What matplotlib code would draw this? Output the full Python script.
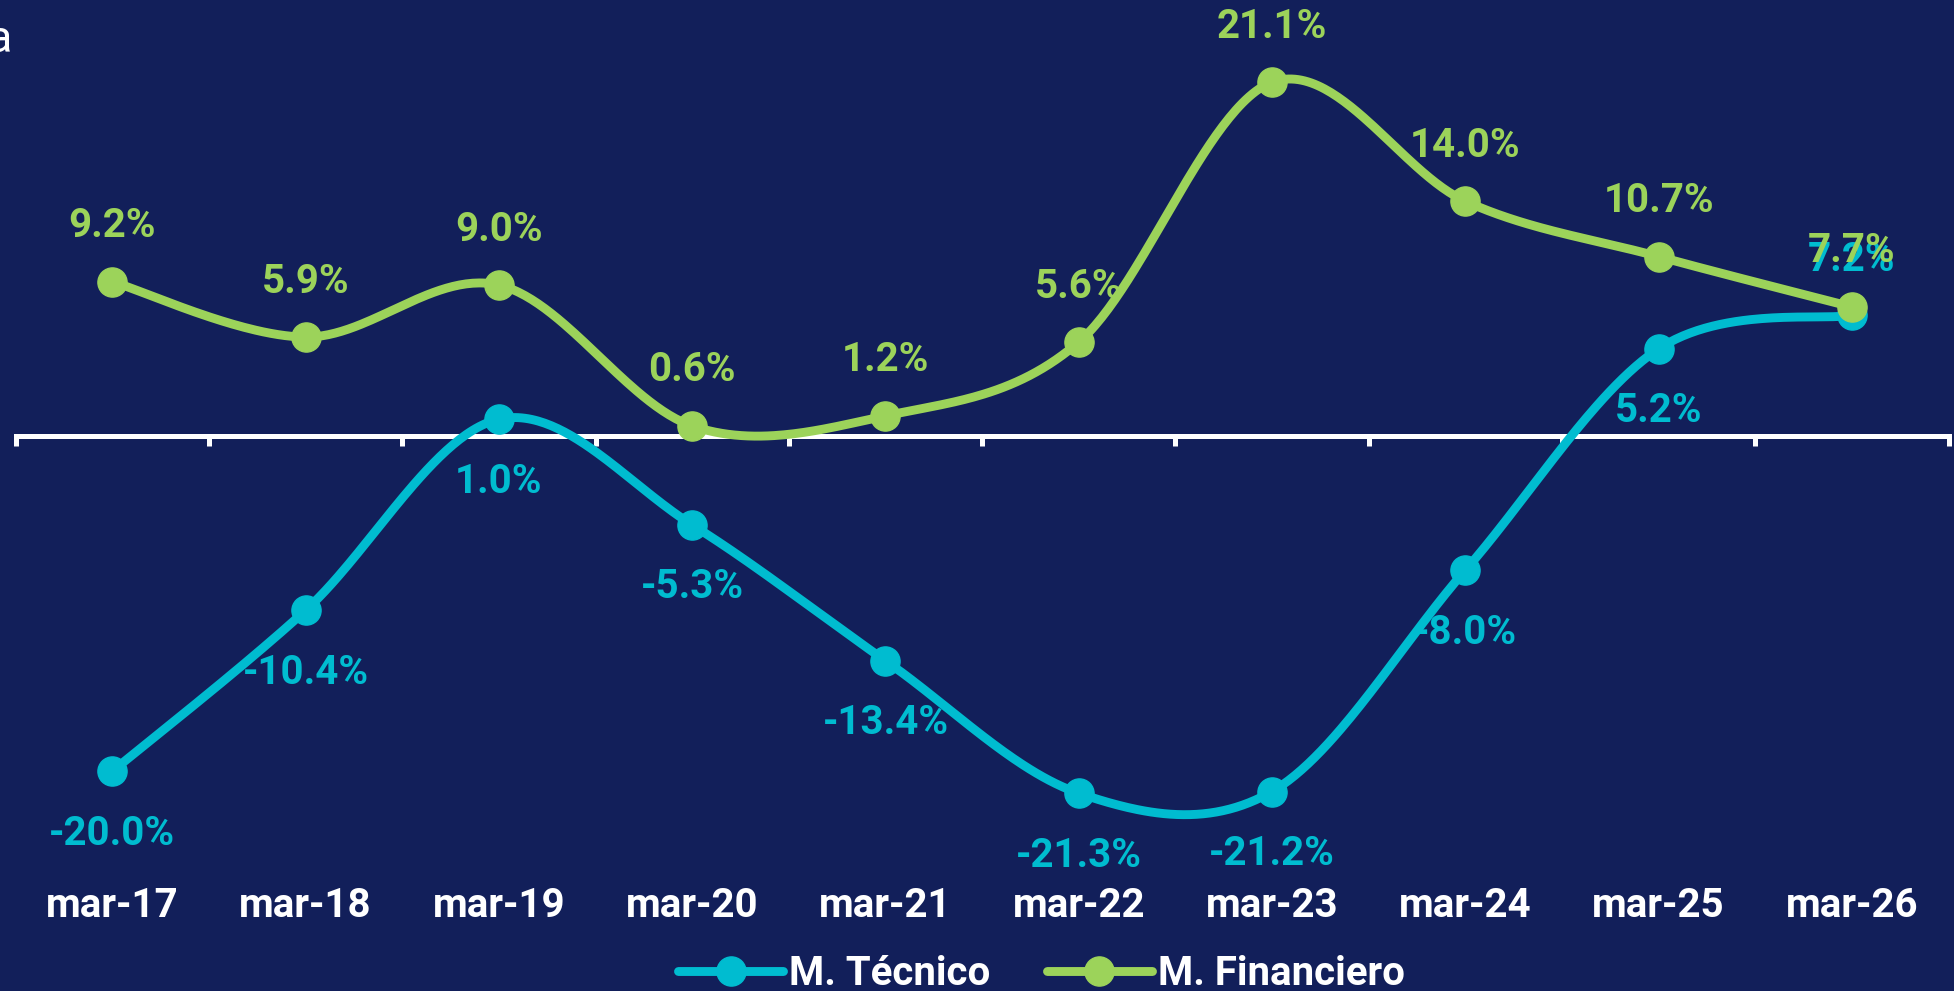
import numpy as np
import matplotlib
matplotlib.use("Agg")
import matplotlib.pyplot as plt
from matplotlib.lines import Line2D
import matplotlib.transforms as mtransforms

# ---- data ----
categories = ["mar-17", "mar-18", "mar-19", "mar-20", "mar-21",
              "mar-22", "mar-23", "mar-24", "mar-25", "mar-26"]
tecnico = [-20.0, -10.4, 1.0, -5.3, -13.4, -21.3, -21.2, -8.0, 5.2, 7.2]
financiero = [9.2, 5.9, 9.0, 0.6, 1.2, 5.6, 21.1, 14.0, 10.7, 7.7]
series_names = ["M. Técnico", "M. Financiero"]

# ---- style ----
BG = "#121F5A"
CYAN = "#00BCD0"
GREEN = "#9CD35A"
plt.rcParams['font.family'] = ['Roboto', 'DejaVu Sans']


def smooth(xs, ys, n=60):
    """Cardinal (Catmull-Rom) Bezier smoothing, like spreadsheet smoothed lines."""
    P = np.column_stack([xs, ys]).astype(float)
    Pext = np.vstack([P[0], P, P[-1]])
    out = []
    for i in range(len(P) - 1):
        p0, p1, p2, p3 = Pext[i], Pext[i + 1], Pext[i + 2], Pext[i + 3]
        c1 = p1 + (p2 - p0) / 6.0
        c2 = p2 - (p3 - p1) / 6.0
        t = np.linspace(0, 1, n)[:, None]
        seg = ((1 - t) ** 3) * p1 + 3 * ((1 - t) ** 2) * t * c1 + 3 * (1 - t) * t ** 2 * c2 + t ** 3 * p2
        out.append(seg if i == 0 else seg[1:])
    out = np.vstack(out)
    return out[:, 0], out[:, 1]


W, H = 1954, 991
fig = plt.figure(figsize=(W / 100, H / 100), dpi=100, facecolor=BG)
ax_left, ax_right, ax_bottom = 15.6, 1948.6, 872
ax = fig.add_axes([ax_left / W, 1 - ax_bottom / H, (ax_right - ax_left) / W, ax_bottom / H])
ax.set_facecolor(BG)

n = len(categories)
x = np.arange(n)
ax.set_xlim(-0.5, n - 0.5)
ax.set_ylim(-26, 26)

for s in ["top", "left", "right"]:
    ax.spines[s].set_visible(False)
ax.spines["bottom"].set_position(("data", 0))
ax.spines["bottom"].set_color("white")
ax.spines["bottom"].set_linewidth(3.6)
ax.set_yticks([])
ax.set_xticks(np.arange(n + 1) - 0.5)
ax.set_xticklabels([])
ax.tick_params(axis="x", direction="out", length=7, width=3.6, color="white")

trans = mtransforms.blended_transform_factory(ax.transData, ax.transAxes)
for i, c in enumerate(categories):
    ax.text(i, -0.039, c, transform=trans, ha="center", va="center",
            fontsize=29, fontweight="bold", color="white", clip_on=False)

tec_side = ["below"] * (n - 1) + ["above"]
fin_side = ["above"] * n

for vals, col, sides, z in [(tecnico, CYAN, tec_side, 3), (financiero, GREEN, fin_side, 4)]:
    sx, sy = smooth(x, vals)
    ax.plot(sx, sy, color=col, lw=6.4, solid_capstyle="round", zorder=z, clip_on=False)
    ax.plot(x, vals, linestyle="none", marker="o", markersize=21, color=col, zorder=z, clip_on=False)
    for i, v in enumerate(vals):
        off = 40 if sides[i] == "above" else -45
        ax.annotate(f"{v:.1f}%", (i, v), xytext=(0, off), textcoords="offset points",
                    ha="center", va="center", fontsize=29, fontweight="bold",
                    color=col, zorder=z + 2, annotation_clip=False)

handles = [Line2D([], [], color=CYAN, lw=6.4, marker="o", markersize=21, solid_capstyle="round"),
           Line2D([], [], color=GREEN, lw=6.4, marker="o", markersize=21, solid_capstyle="round")]
leg = fig.legend(handles, series_names, loc="center", bbox_to_anchor=(0.533, 1 - 974 / H),
                 ncol=2, frameon=False, handlelength=2.6, handletextpad=0.15,
                 columnspacing=1.4, prop={"family": "Roboto", "weight": "bold", "size": 29})
for t in leg.get_texts():
    t.set_color("white")

fig.text(12 / W, 1 - 52 / H, "a", ha="right", va="baseline", fontsize=32, color="white")

fig.savefig("out.png", dpi=100, facecolor=BG)
